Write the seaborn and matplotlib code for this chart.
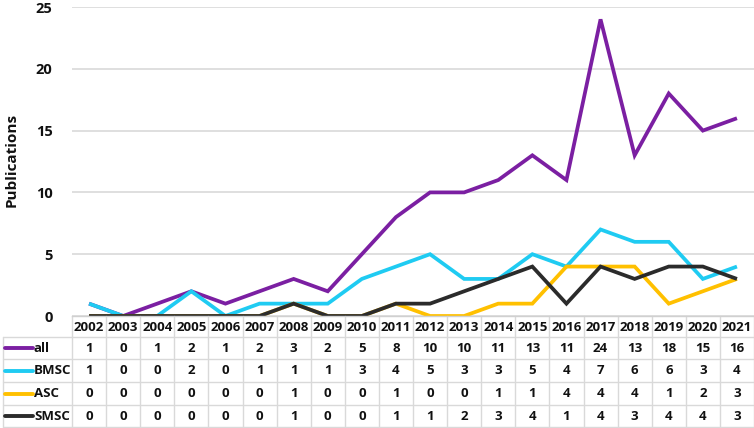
import matplotlib
matplotlib.use("Agg")
import matplotlib.pyplot as plt
import matplotlib.transforms as mtransforms
import seaborn as sns
import pandas as pd

years = list(range(2002, 2022))
all_pub = [1, 0, 1, 2, 1, 2, 3, 2, 5, 8, 10, 10, 11, 13, 11, 24, 13, 18, 15, 16]
bmsc = [1, 0, 0, 2, 0, 1, 1, 1, 3, 4, 5, 3, 3, 5, 4, 7, 6, 6, 3, 4]
asc = [0, 0, 0, 0, 0, 0, 1, 0, 0, 1, 0, 0, 1, 1, 4, 4, 4, 1, 2, 3]
smsc = [0, 0, 0, 0, 0, 0, 1, 0, 0, 1, 1, 2, 3, 4, 1, 4, 3, 4, 4, 3]
series_names = ["all", "BMSC", "ASC", "SMSC"]
series_values = [all_pub, bmsc, asc, smsc]
colors = ["#7B1FA2", "#1FCBF2", "#FFC000", "#2B2B2B"]
y_ticks = [0, 5, 10, 15, 20, 25]
y_label = "Publications"

sns.set_theme(style="white")
plt.rcParams["font.family"] = ["Open Sans", "DejaVu Sans"]
plt.rcParams["font.weight"] = "bold"

df = pd.DataFrame({
    "year": years * len(series_names),
    "value": sum(series_values, []),
    "series": [n for n in series_names for _ in years],
})

W, H = 754, 428
fig = plt.figure(figsize=(W / 100, H / 100), dpi=100)
L, R, T, B = 72, 754, 7, 316
ax = fig.add_axes([L / W, (H - B) / H, (R - L) / W, (B - T) / H])

sns.lineplot(data=df, x="year", y="value", hue="series", hue_order=series_names,
             palette=colors, linewidth=2.7, legend=False, ax=ax, sort=False,
             solid_joinstyle="miter", solid_capstyle="butt")

FS = 9.5
ax.set_xlim(years[0] - 0.5, years[-1] + 0.5)
ax.set_ylim(0, 25)
ax.set_yticks(y_ticks)
ax.set_yticklabels([str(t) for t in y_ticks], fontsize=10.5, fontweight="bold", color="#111111")
ax.tick_params(axis="y", length=0, pad=14)
ax.set_xticks([])
ax.set_xlabel("")
ax.set_ylabel("")
fig.text(12 / W, (H - 160) / H, y_label, rotation=90, ha="center", va="center",
         fontsize=11, fontweight="bold", color="#111111")
ax.yaxis.grid(True, color="#D9D9D9", linewidth=1.2)
ax.set_axisbelow(True)
for s in ["top", "right", "left"]:
    ax.spines[s].set_visible(False)
ax.spines["bottom"].set_color("#D0D0D0")
ax.spines["bottom"].set_linewidth(1.0)

# Data table below the axes
trans = mtransforms.blended_transform_factory(ax.transData, ax.transAxes)
def ay(ypix):
    return (B - ypix) / (B - T)
def ax_x(xpix):
    return (xpix - L) / (R - L)

grid_c = "#D9D9D9"
header_top, header_bot = 316, 337
row_bounds = [337, 359, 382, 405, 427]

for yv in years:
    ax.text(yv, ay((header_top + header_bot) / 2 + 1), str(yv), transform=trans,
            ha="center", va="center", fontsize=FS, fontweight="bold", color="#111111")

for i in range(len(years) + 1):
    xv = years[0] - 0.5 + i
    ax.plot([xv, xv], [ay(header_top), ay(row_bounds[-1])], transform=trans,
            color=grid_c, lw=1.0, clip_on=False)
for yb in row_bounds:
    ax.plot([ax_x(3), 1], [ay(yb), ay(yb)], transform=ax.transAxes,
            color=grid_c, lw=1.0, clip_on=False)
ax.plot([ax_x(3), ax_x(3)], [ay(row_bounds[0]), ay(row_bounds[-1])], transform=ax.transAxes,
        color=grid_c, lw=1.0, clip_on=False)

for r, (name, vals, col) in enumerate(zip(series_names, series_values, colors)):
    yc = ay((row_bounds[r] + row_bounds[r + 1]) / 2)
    ax.plot([ax_x(5), ax_x(33)], [yc, yc], transform=ax.transAxes, color=col,
            lw=2.8, clip_on=False, solid_capstyle="round")
    ax.text(ax_x(34), yc, name, transform=ax.transAxes, ha="left", va="center",
            fontsize=FS, fontweight="bold", color="#111111")
    for yv, v in zip(years, vals):
        ax.text(yv, yc, str(v), transform=trans, ha="center", va="center",
                fontsize=FS, fontweight="bold", color="#111111")

fig.savefig("out.png", dpi=100, facecolor="white")
